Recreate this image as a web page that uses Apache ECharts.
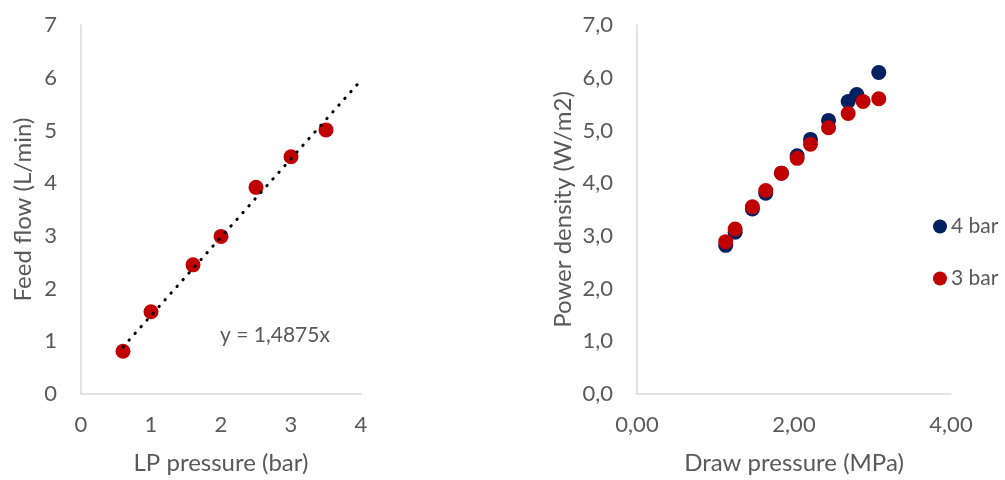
<!DOCTYPE html>
<html>
<head>
<meta charset="utf-8">
<script src="https://cdn.jsdelivr.net/npm/echarts@6/dist/echarts.min.js"></script>
<style>html,body{margin:0;padding:0;background:#fff}#c{width:1005px;height:480px}</style>
</head>
<body>
<div id="c"></div>
<script>
// Left chart: feed flow vs LP pressure
var lpPressure = [0.6, 1.0, 1.6, 2.0, 2.5, 3.0, 3.5];
var feedFlow = [0.81, 1.56, 2.45, 2.99, 3.92, 4.50, 5.01];
var trendX = [0.6, 4.0];
var trendY = [0.8925, 5.95];
var trendLabel = 'y = 1,4875x';

// Right chart: power density vs draw pressure
var drawPressure4 = [1.13, 1.25, 1.47, 1.64, 1.84, 2.04, 2.21, 2.44, 2.69, 2.80, 3.08];
var power4 = [2.82, 3.07, 3.51, 3.81, 4.19, 4.52, 4.83, 5.19, 5.55, 5.68, 6.10];
var drawPressure3 = [1.13, 1.25, 1.47, 1.64, 1.84, 2.04, 2.21, 2.44, 2.69, 2.88, 3.08];
var power3 = [2.89, 3.13, 3.55, 3.86, 4.19, 4.47, 4.74, 5.05, 5.32, 5.55, 5.60];
var seriesNames = ['4 bar', '3 bar'];

function pairs(xs, ys) { return xs.map(function (x, i) { return [x, ys[i]]; }); }

var FONT = 'Lato, "Open Sans", sans-serif';
var GREY = '#595959';
var AXIS = '#d9d9d9';

function xAxisCfg(idx, name, interval, fmt) {
  return {
    type: 'value', gridIndex: idx, min: 0, max: 4, interval: interval,
    name: name, nameLocation: 'middle', nameGap: 57,
    nameTextStyle: { color: GREY, fontSize: 24, fontFamily: FONT },
    axisLine: { show: true, lineStyle: { color: AXIS, width: 1.5 } },
    axisTick: { show: false }, splitLine: { show: false },
    axisLabel: { color: GREY, fontSize: 22, fontFamily: FONT, margin: 20, formatter: fmt }
  };
}
function yAxisCfg(idx, name, fmt, gap) {
  return {
    type: 'value', gridIndex: idx, min: 0, max: 7, interval: 1,
    name: name, nameLocation: 'middle', nameGap: gap,
    nameTextStyle: { color: GREY, fontSize: 24, fontFamily: FONT },
    axisLine: { show: true, lineStyle: { color: AXIS, width: 1.5 } },
    axisTick: { show: false }, splitLine: { show: false },
    axisLabel: { color: GREY, fontSize: 22, fontFamily: FONT, margin: 24, formatter: fmt }
  };
}

var chart = echarts.init(document.getElementById('c'), null, { renderer: 'canvas' });
chart.setOption({
  backgroundColor: '#fff',
  animation: false,
  grid: [
    { left: 81, right: 644, top: 25, bottom: 84 },
    { left: 637, right: 54, top: 25, bottom: 84 }
  ],
  xAxis: [
    xAxisCfg(0, 'LP pressure (bar)', 1, function (v) { return String(v); }),
    xAxisCfg(1, 'Draw pressure (MPa)', 2, function (v) { return v.toFixed(2).replace('.', ','); })
  ],
  yAxis: [
    yAxisCfg(0, 'Feed flow (L/min)', function (v) { return String(v); }, 46),
    yAxisCfg(1, 'Power density (W/m2)', function (v) { return v.toFixed(1).replace('.', ','); }, 62)
  ],
  legend: {
    data: seriesNames, orient: 'vertical', left: 933, top: 216, itemGap: 31,
    icon: 'circle', itemWidth: 14, itemHeight: 14, padding: 0,
    textStyle: { color: GREY, fontSize: 21, fontFamily: FONT, padding: [0, 0, 0, -1] }
  },
  graphic: [{
    type: 'text', left: 220, top: 325,
    style: { text: trendLabel, fill: GREY, fontSize: 21, fontFamily: FONT }
  }],
  series: [
    {
      type: 'line', xAxisIndex: 0, yAxisIndex: 0, data: pairs(trendX, trendY),
      symbol: 'none', silent: true, z: 3,
      lineStyle: { color: '#000', width: 3, type: [0.5, 8.5], cap: 'round' }
    },
    {
      type: 'scatter', xAxisIndex: 0, yAxisIndex: 0, data: pairs(lpPressure, feedFlow),
      symbolSize: 15, itemStyle: { color: '#C00000', opacity: 1 }, z: 2
    },
    {
      name: seriesNames[0], type: 'scatter', xAxisIndex: 1, yAxisIndex: 1,
      data: pairs(drawPressure4, power4), symbolSize: 15,
      itemStyle: { color: '#002060', opacity: 1 }
    },
    {
      name: seriesNames[1], type: 'scatter', xAxisIndex: 1, yAxisIndex: 1,
      data: pairs(drawPressure3, power3), symbolSize: 15,
      itemStyle: { color: '#C00000', opacity: 1 }
    }
  ]
});
</script>
</body>
</html>
